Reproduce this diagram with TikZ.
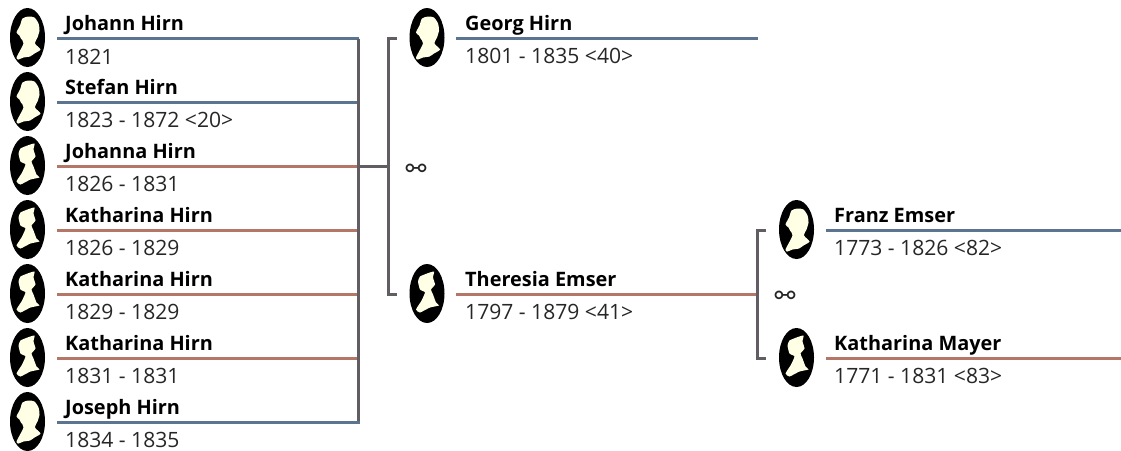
\documentclass[tikz,border=0pt]{standalone}
\usepackage{fontspec}
\setmainfont{Open Sans}
\newfontfamily\symfont{DejaVu Sans}
\definecolor{maleblue}{HTML}{5B7590}
\definecolor{femalered}{HTML}{B5766A}
\definecolor{famgray}{HTML}{625D63}
\definecolor{cameo}{HTML}{FFFFE6}
\tikzset{
	namelabel/.style={anchor=base west, inner sep=0pt, font=\fontsize{19.9}{24}\selectfont\bfseries},
	datelabel/.style={anchor=base west, inner sep=0pt, font=\fontsize{21.1}{24}\selectfont, text=black!85},
	marklabel/.style={inner sep=0pt, font=\fontsize{25}{26}\symfont, text=black!85},
	maleline/.style={maleblue, line width=2.6pt},
	femaleline/.style={femalered, line width=2.6pt},
	famline/.style={famgray, line width=3pt, line join=miter},
	malesil/.pic={
		\fill[black] (0,0) ellipse (17.5 and 29.5);
		\fill[cameo] plot[smooth cycle, tension=0.4] coordinates {(-5,-19) (1,-21) (7,-20) (11,-14) (12,-7) (10,0) (7.5,6) (13,12) (7,16) (2.5,19) (-4,20) (-9,22) (-11,20) (-4,6) (-6.5,1) (-8,-2) (-11,-5) (-7.5,-12)};
	},
	femalesil/.pic={
		\fill[black] (0,0) ellipse (17.5 and 29.5);
		\fill[cameo] plot[smooth cycle, tension=0.3] coordinates {(-7,-17) (0,-20) (7,-22) (6,-16) (8,-9) (4,-4) (6,1) (9,9) (12,12) (3,14) (-7,19) (-11,16) (-6,8) (-2,-1) (-7,-4) (-9,-12)};
	},
}
\begin{document}
\begin{tikzpicture}[x=1pt, y=-1pt]
	\useasboundingbox (0,0) rectangle (1121,450);
	% children
	\coordinate (johannL) at (57,38.5);
	\coordinate (johannR) at (358.5,38.5);
	\coordinate (stefanL) at (57,102.5);
	\coordinate (stefanR) at (358.5,102.5);
	\coordinate (johannaL) at (57,166.5);
	\coordinate (johannaR) at (358.5,166.5);
	\coordinate (katharinaaL) at (57,230.5);
	\coordinate (katharinaaR) at (358.5,230.5);
	\coordinate (katharinabL) at (57,294.5);
	\coordinate (katharinabR) at (358.5,294.5);
	\coordinate (katharinacL) at (57,358.5);
	\coordinate (katharinacR) at (358.5,358.5);
	\coordinate (josephL) at (57,422.5);
	\coordinate (josephR) at (360,422.5);
	\coordinate (josephT) at (358.5,422.5);
	% parents
	\coordinate (georgL) at (456,38.5);
	\coordinate (georgR) at (758,38.5);
	\coordinate (theresiaL) at (456,294.5);
	\coordinate (theresiaR) at (757.5,294.5);
	\coordinate (parentsTop) at (388.5,38.5);
	\coordinate (parentsBot) at (388.5,294.5);
	\coordinate (parentsMid) at (388.5,166.5);
	\coordinate (georgStub) at (397,38.5);
	\coordinate (theresiaStub) at (397,294.5);
	% grandparents
	\coordinate (franzL) at (826,230.5);
	\coordinate (franzR) at (1121,230.5);
	\coordinate (mayerL) at (826,358.5);
	\coordinate (mayerR) at (1121,358.5);
	\coordinate (grandTop) at (757.5,230.5);
	\coordinate (grandBot) at (757.5,358.5);
	\coordinate (franzStub) at (766,230.5);
	\coordinate (mayerStub) at (766,358.5);

	\pic (johannsil) at (27.5,37.5) {malesil};
	\pic (stefansil) at (27.5,101.5) {malesil};
	\pic (johannasil) at (27.5,165.5) {femalesil};
	\pic (katharinaasil) at (27.5,229.5) {femalesil};
	\pic (katharinabsil) at (27.5,293.5) {femalesil};
	\pic (katharinacsil) at (27.5,357.5) {femalesil};
	\pic (josephsil) at (27.5,421.5) {malesil};
	\pic (georgsil) at (427,37.5) {malesil};
	\pic (theresiasil) at (427,293.5) {femalesil};
	\pic (franzsil) at (796.5,229.5) {malesil};
	\pic (mayersil) at (796.5,357.5) {femalesil};

	\node[namelabel] (johann) at (65,30) {Johann Hirn};
	\node[datelabel] (johanndate) at (65,64) {1821};
	\node[namelabel] (stefan) at (65,94) {Stefan Hirn};
	\node[datelabel] (stefandate) at (65,127) {1823 - 1872 <20>};
	\node[namelabel] (johanna) at (65,158) {Johanna Hirn};
	\node[datelabel] (johannadate) at (65,191) {1826 - 1831};
	\node[namelabel] (katharinaa) at (65,222) {Katharina Hirn};
	\node[datelabel] (katharinaadate) at (65,255) {1826 - 1829};
	\node[namelabel] (katharinab) at (65,286) {Katharina Hirn};
	\node[datelabel] (katharinabdate) at (65,319) {1829 - 1829};
	\node[namelabel] (katharinac) at (65,350) {Katharina Hirn};
	\node[datelabel] (katharinacdate) at (65,383) {1831 - 1831};
	\node[namelabel] (joseph) at (65,414) {Joseph Hirn};
	\node[datelabel] (josephdate) at (65,447) {1834 - 1835};
	\node[namelabel] (georg) at (465,30) {Georg Hirn};
	\node[datelabel] (georgdate) at (465,63) {1801 - 1835 <40>};
	\node[namelabel] (theresia) at (465,286) {Theresia Emser};
	\node[datelabel] (theresiadate) at (465,319) {1797 - 1879 <41>};
	\node[namelabel] (franz) at (834,222) {Franz Emser};
	\node[datelabel] (franzdate) at (834,255) {1773 - 1826 <82>};
	\node[namelabel] (mayer) at (834,350) {Katharina Mayer};
	\node[datelabel] (mayerdate) at (834,383) {1771 - 1831 <83>};
	\node[marklabel] (parentsmark) at (416,171) {⚯};
	\node[marklabel] (grandmark) at (785,298) {⚯};

	\draw[maleline] (johannL) -- (johannR);
	\draw[maleline] (stefanL) -- (stefanR);
	\draw[femaleline] (johannaL) -- (johannaR);
	\draw[femaleline] (katharinaaL) -- (katharinaaR);
	\draw[femaleline] (katharinabL) -- (katharinabR);
	\draw[femaleline] (katharinacL) -- (katharinacR);
	\draw[famline] (johannR) -- (josephT);
	\draw[famline] (johannaR) -- (parentsMid);
	\draw[famline] (georgStub) -- (parentsTop) -- (parentsBot) -- (theresiaStub);
	\draw[maleline] (josephL) -- (josephR);
	\draw[maleline] (georgL) -- (georgR);
	\draw[femaleline] (theresiaL) -- (theresiaR);
	\draw[famline] (franzStub) -- (grandTop) -- (grandBot) -- (mayerStub);
	\draw[maleline] (franzL) -- (franzR);
	\draw[femaleline] (mayerL) -- (mayerR);
\end{tikzpicture}
\end{document}
